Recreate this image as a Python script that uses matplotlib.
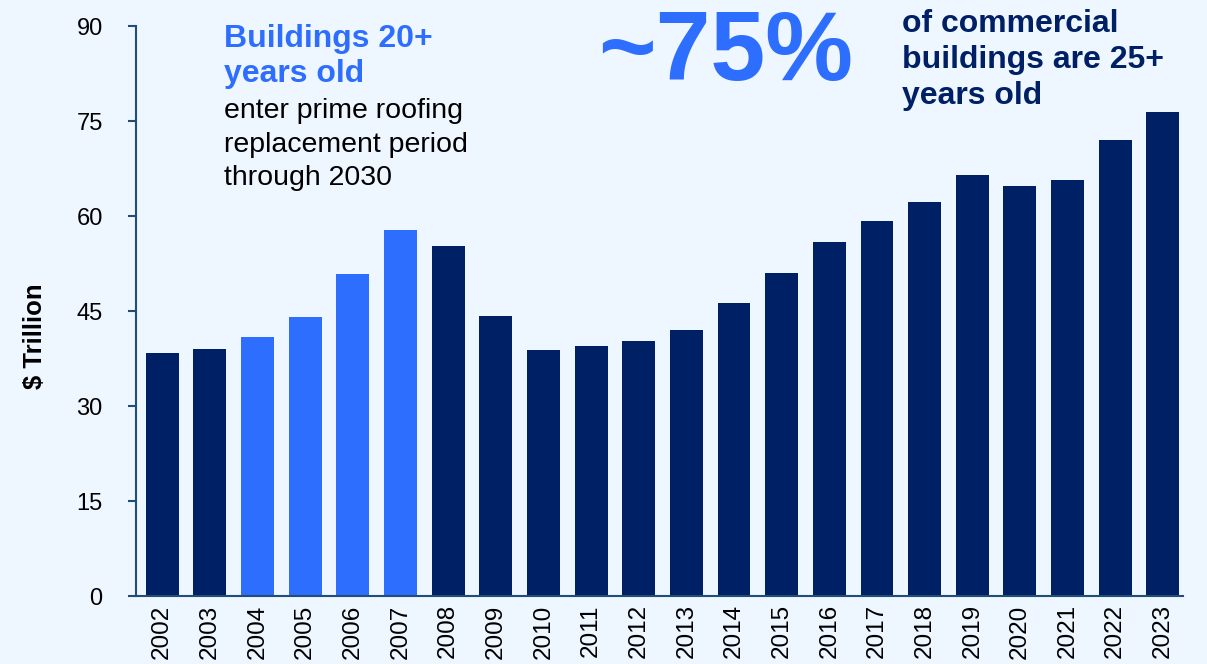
import matplotlib.pyplot as plt

plt.rcParams['font.family'] = ['Liberation Sans', 'DejaVu Sans']

years = [str(y) for y in range(2002, 2024)]
values = [38.4, 39.0, 40.9, 44.0, 50.8, 57.8, 55.3, 44.2, 38.8, 39.5, 40.3,
          42.0, 46.3, 51.0, 55.9, 59.2, 62.2, 66.5, 64.7, 65.7, 72.0, 76.4]
highlight = ['2004', '2005', '2006', '2007']

title_lines = ['Buildings 20+', 'years old']
note_lines = ['enter prime roofing', 'replacement period', 'through 2030']
stat_lines = ['of commercial', 'buildings are 25+', 'years old']

bg = '#EEF6FF'
navy = '#002066'
bright = '#2E6EFF'
axis_col = '#1F4E79'

fig = plt.figure(figsize=(12.07, 6.64), dpi=100, facecolor=bg)
ax = fig.add_axes([0.1127, 0.1024, 0.8673, 0.8584], facecolor=bg)

colors = [bright if y in highlight else navy for y in years]
ax.bar(range(len(years)), values, width=0.69, color=colors)

ax.set_xlim(-0.55, len(years) - 0.58)
ax.set_ylim(0, 90)
ax.set_yticks(range(0, 91, 15))
ax.set_xticks(range(len(years)))
ax.set_xticklabels(years, rotation=90, fontsize=17.5)
ax.tick_params(axis='y', labelsize=17, length=6, width=1.5, color=axis_col, pad=18)
ax.tick_params(axis='x', length=0, pad=6)

for side in ['top', 'right']:
    ax.spines[side].set_visible(False)
for side in ['left', 'bottom']:
    ax.spines[side].set_color(axis_col)
    ax.spines[side].set_linewidth(1.5)

fig.text(35 / 1207, 1 - 336 / 664, '$ Trillion', rotation=90, fontsize=18.5,
         fontweight='bold', ha='center', va='center')


def put_lines(lines, x_px, first_base_px, step_px, **kw):
    # one text per line, placed by baseline in pixel rows from the top
    for i, line in enumerate(lines):
        fig.text(x_px / 1207, 1 - (first_base_px + i * step_px) / 664, line,
                 ha='left', va='baseline', **kw)


# left annotation
put_lines(title_lines, 224, 47, 35, color=bright, fontsize=23, fontweight='bold')
put_lines(note_lines, 224, 118, 33.5, color='black', fontsize=20.5)

# right annotation
fig.text(598 / 1207, 1 - 80 / 664, '~75%', color=bright, fontsize=71,
         fontweight='bold', ha='left', va='baseline')
put_lines(stat_lines, 902, 32, 36, color=navy, fontsize=23, fontweight='bold')

fig.savefig('out.png', dpi=100, facecolor=bg)
